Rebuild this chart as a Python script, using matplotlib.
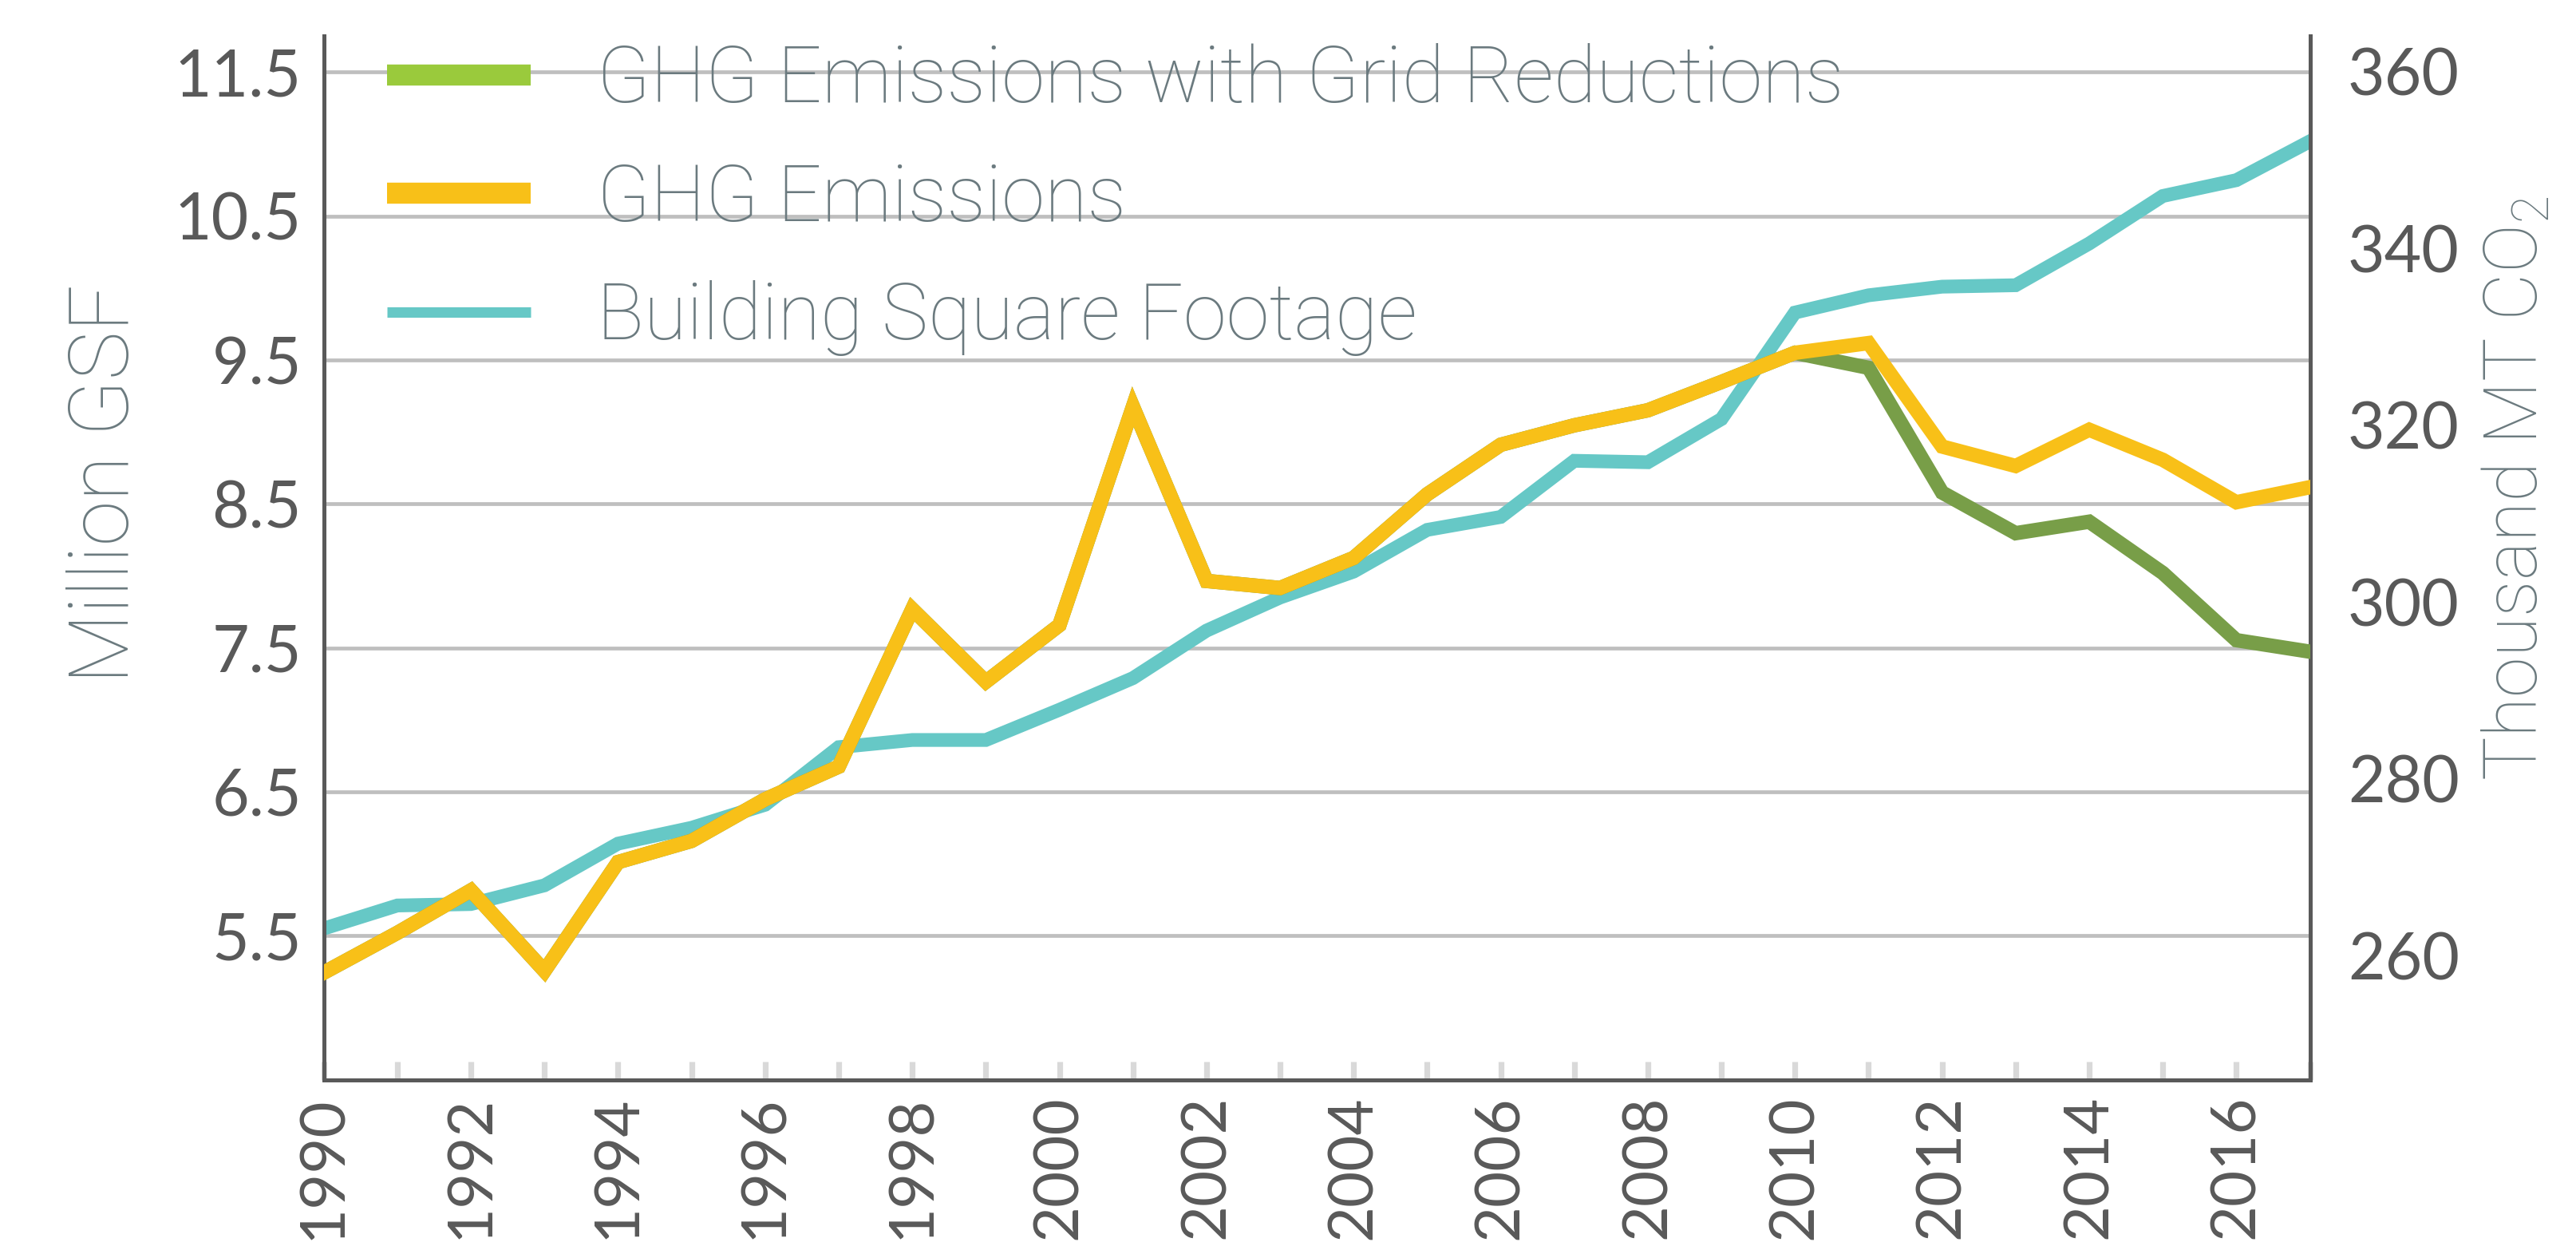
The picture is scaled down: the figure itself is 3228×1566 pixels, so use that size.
import matplotlib
matplotlib.use("Agg")
import matplotlib.pyplot as plt
from matplotlib.lines import Line2D
from matplotlib.ticker import MultipleLocator

# datos
anios = list(range(1990, 2018))

superficie_gsf = [5.55, 5.71, 5.72, 5.85, 6.14, 6.25, 6.41, 6.81, 6.86, 6.86,
                  7.07, 7.29, 7.62, 7.85, 8.03, 8.32, 8.41, 8.80, 8.79, 9.09,
                  9.83, 9.95, 10.01, 10.02, 10.31, 10.64, 10.75, 11.02]

emisiones_ghg = [258.1, 262.6, 267.4, 258.3, 270.6, 273.0, 277.7, 281.4, 299.2, 291.0,
                 297.4, 322.1, 302.4, 301.6, 305.0, 312.2, 317.8, 320.0, 321.7, 324.9,
                 328.2, 329.3, 317.6, 315.4, 319.5, 316.1, 311.3, 313.0]

emisiones_red = [258.1, 262.6, 267.4, 258.3, 270.6, 273.0, 277.7, 281.4, 299.2, 291.0,
                 297.4, 322.1, 302.4, 301.6, 305.0, 312.2, 317.8, 320.0, 321.7, 324.9,
                 328.2, 326.5, 312.4, 307.8, 309.1, 303.3, 295.7, 294.4]

ticks_izq = [5.5, 6.5, 7.5, 8.5, 9.5, 10.5, 11.5]
ticks_der = [260, 280, 300, 320, 340, 360]
ticks_x = list(range(1990, 2017, 2))

etiquetas = ["GHG Emissions with Grid Reductions", "GHG Emissions", "Building Square Footage"]

VERDE_LINEA = "#789e48"
VERDE_LEYENDA = "#9aca3c"
AMARILLO = "#f8c018"
TURQUESA = "#66c8c6"
GRIS_TEXTO = "#595959"
GRIS_TITULO = "#6b7a7f"
GRIS_GRID = "#bfbfbf"

plt.rcParams["font.family"] = ["Lato", "DejaVu Sans"]
plt.rcParams["mathtext.fontset"] = "custom"
plt.rcParams["mathtext.rm"] = "Roboto:light"

fig = plt.figure(figsize=(16.14, 7.83), dpi=200)
ax = fig.add_axes([0.1257, 0.1363, 0.8967 - 0.1257, 0.971 - 0.1363])
ax2 = ax.twinx()

ax.plot(anios, superficie_gsf, color=TURQUESA, lw=6.2, solid_joinstyle="miter", zorder=3)
ax2.plot(anios, emisiones_red, color=VERDE_LINEA, lw=6.5, solid_joinstyle="miter", zorder=3)
ax2.plot(anios, emisiones_ghg, color=AMARILLO, lw=6.5, solid_joinstyle="miter", zorder=4)

ax.set_xlim(1990, 2017)
ax.set_ylim(4.5, 11.75)
ax2.set_ylim(246, 364)

ax.set_yticks(ticks_izq)
ax.set_yticklabels([f"{v:.1f}" for v in ticks_izq])
ax2.set_yticks(ticks_der)
ax.set_xticks(ticks_x)
ax.set_xticklabels([str(a) for a in ticks_x], rotation=90)
ax.xaxis.set_minor_locator(MultipleLocator(1))

ax.grid(axis="y", color=GRIS_GRID, lw=1.7, zorder=1)
ax.set_axisbelow(True)

ax.tick_params(axis="y", length=0, labelsize=29, labelcolor=GRIS_TEXTO, pad=10)
ax2.tick_params(axis="y", length=0, labelsize=29, labelcolor=GRIS_TEXTO, pad=17)
ax.tick_params(axis="x", which="both", direction="in", length=8.4, width=2.6,
               color="#d9d9d9", labelsize=28, labelcolor=GRIS_TEXTO, pad=7)
ax2.tick_params(axis="x", which="both", length=0)

for a in (ax, ax2):
    a.spines["top"].set_visible(False)
    for lado in ("left", "right", "bottom"):
        a.spines[lado].set_color(GRIS_TEXTO)
        a.spines[lado].set_linewidth(1.8)

fuente_titulo = {"family": ["Roboto", "DejaVu Sans"], "weight": "light"}
fig.text(0.041, 0.613, "Million GSF", rotation=90, ha="center", va="center",
         fontsize=37, color=GRIS_TITULO, **fuente_titulo)
fig.text(0.977, 0.609, "Thousand MT CO$_2$", rotation=90, ha="center", va="center",
         fontsize=33, color=GRIS_TITULO, **fuente_titulo)

manijas = [Line2D([], [], color=VERDE_LEYENDA, lw=9.5, solid_capstyle="butt"),
           Line2D([], [], color=AMARILLO, lw=9.5, solid_capstyle="butt"),
           Line2D([], [], color=TURQUESA, lw=4.7, solid_capstyle="butt")]
leyenda = ax2.legend(manijas, etiquetas, loc="upper left", bbox_to_anchor=(0.012, 1.031),
                     frameon=False, handlelength=1.85, handletextpad=0.84,
                     labelspacing=0.56, borderpad=0, labelcolor=GRIS_TITULO,
                     prop={"family": ["Roboto", "DejaVu Sans"], "weight": "light", "size": 35.2})

fig.savefig("out.png", dpi=200)
